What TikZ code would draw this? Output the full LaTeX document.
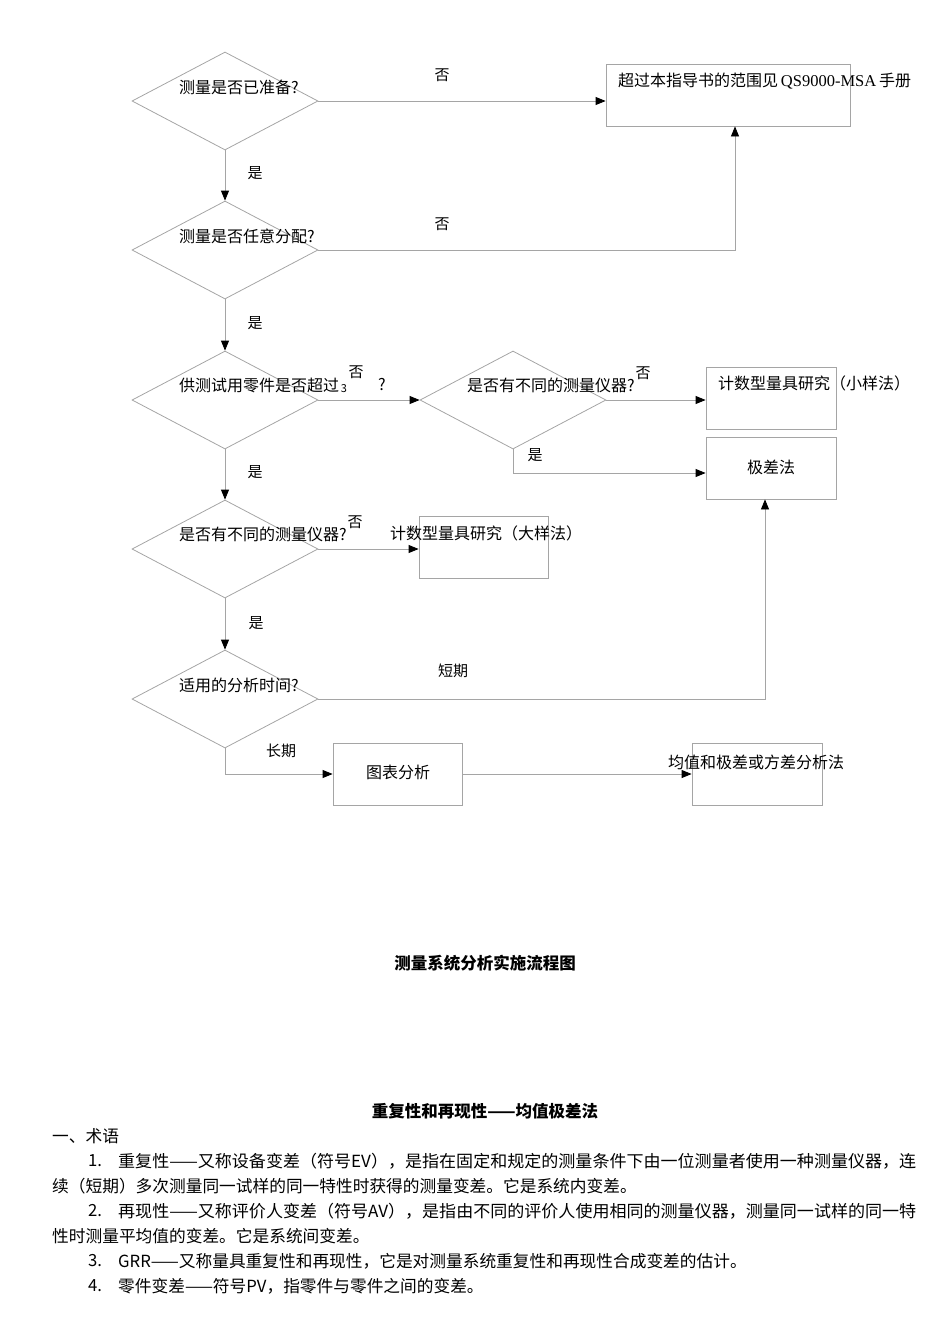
\documentclass[tikz,border=0pt]{standalone}
\usepackage{fontspec}
\usepackage{graphicx}
\setmainfont{Noto Sans CJK SC}
\newfontfamily\tnr{Liberation Serif}
\usetikzlibrary{shapes.geometric,arrows.meta}
\definecolor{lg}{RGB}{165,165,165}
\begin{document}
\begin{tikzpicture}[x=1pt,y=-1pt,
  dia/.style={draw=lg, diamond, minimum width=186pt, minimum height=98pt, inner sep=0pt, line width=0.8pt},
  box/.style={draw=lg, rectangle, inner sep=0pt, line width=0.8pt, minimum height=62pt},
  conn/.style={draw=lg, line width=0.8pt},
  arr/.style={conn, -{Triangle[length=10pt,width=8pt,color=black]}},
  t/.style={inner sep=0pt, font=\fontsize{16}{18}\selectfont},
  lab/.style={inner sep=0pt, font=\fontsize{15}{18}\selectfont},
  body/.style={inner sep=0pt, anchor=west, font=\fontsize{16.7}{20}\selectfont},
  head/.style={inner sep=0pt, font=\fontsize{16.5}{20}\selectfont\bfseries}]
\useasboundingbox (0,0) rectangle (950,1344);

% diamonds
\node[dia] (d1) at (225,101) {};
\node[dia] (d2) at (225,250) {};
\node[dia] (d3) at (225,400) {};
\node[dia] (d4) at (513,400) {};
\node[dia] (d5) at (225,549) {};
\node[dia] (d6) at (225,699) {};

% boxes
\node[box, minimum width=244pt] (b1) at (728,95) {};
\node[box, minimum width=130pt] (s1) at (771,398) {};
\node[box, minimum width=130pt] (r) at (771,468) {};
\node[box, minimum width=129pt] (L) at (483.5,547) {};
\node[box, minimum width=129pt] (c) at (397.5,774) {};
\node[box, minimum width=130pt] (m) at (757,774) {};

% texts
\node[t, anchor=west] (t1) at (179,87) {测量是否已准备?};
\node[t, anchor=west] (t2) at (179,236) {测量是否任意分配?};
\node[t, anchor=west] (t3) at (179,385) {供测试用零件是否超过};
\node[inner sep=0pt, font=\fontsize{11}{12}\selectfont] (t3a) at (344,389) {3};
\node[t] (t3b) at (382,385) {?};
\node[t, anchor=west] (t4) at (467,385) {是否有不同的测量仪器?};
\node[t, anchor=west] (t5) at (179,534) {是否有不同的测量仪器?};
\node[t, anchor=west] (t6) at (179,685) {适用的分析时间?};
\node[t, anchor=west] (tb1) at (618,81) {超过本指导书的范围见{\tnr\fontsize{16.5}{18}\selectfont\,QS9000-MSA\,}手册};
\node[t, anchor=west] (ts1) at (718,383) {计数型量具研究（小样法）};
\node[t] (tr) at (771,467) {极差法};
\node[t, anchor=west] (tL) at (390,533) {计数型量具研究（大样法）};
\node[t] (tc) at (398,772) {图表分析};
\node[t, anchor=west] (tm) at (668,762) {均值和极差或方差分析法};

% connectors
\draw[arr] (d1.east) -- (d1.east -| b1.west);
\draw[arr] (d1.south) -- (d2.north);
\draw[arr] (d2.east) -| ([xshift=7pt]b1.south);
\draw[arr] (d2.south) -- (d3.north);
\draw[arr] (d3.east) -- (d4.west);
\draw[arr] (d4.east) -- (d4.east -| s1.west);
\draw[arr] (d4.south) |- ([yshift=-5pt]r.west);
\draw[arr] (d3.south) -- (d5.north);
\draw[arr] (d5.east) -- (d5.east -| L.west);
\draw[arr] (d5.south) -- (d6.north);
\draw[arr] (d6.east) -| ([xshift=-6pt]r.south);
\draw[arr] (d6.south) |- (c.west);
\draw[arr] (c.east) -- (m.west);

% connector labels
\node[lab] (l1) at (442,75) {否};
\node[lab] (l2) at (442,224) {否};
\node[lab] (l3) at (255,173) {是};
\node[lab] (l4) at (255,323) {是};
\node[lab] (l5) at (356,372) {否};
\node[lab] (l6) at (643,373) {否};
\node[lab] (l7) at (535,455) {是};
\node[lab] (l8) at (255,472) {是};
\node[lab] (l9) at (355,522) {否};
\node[lab] (l10) at (256,623) {是};
\node[lab] (l11) at (453,671) {短期};
\node[lab] (l12) at (281,751) {长期};

% titles
\node[head] (title) at (485,963) {测量系统分析实施流程图};
\node[head] (head2) at (485,1111) {重复性和再现性——均值极差法};

% body
\node[body] (p0) at (52,1136) {一、术语};
\node[body] (p1n) at (88,1161) {1.};
\node[body] (p1) at (118,1161) {\resizebox{798pt}{\height}{重复性——又称设备变差（符号EV），是指在固定和规定的测量条件下由一位测量者使用一种测量仪器，连}};
\node[body] (p2) at (52,1186) {续（短期）多次测量同一试样的同一特性时获得的测量变差。它是系统内变差。};
\node[body] (p3n) at (88,1211) {2.};
\node[body] (p3) at (118,1211) {\resizebox{798pt}{\height}{再现性——又称评价人变差（符号AV），是指由不同的评价人使用相同的测量仪器，测量同一试样的同一特}};
\node[body] (p4) at (52,1236) {性时测量平均值的变差。它是系统间变差。};
\node[body] (p5n) at (88,1261) {3.};
\node[body] (p5) at (118,1261) {GRR——又称量具重复性和再现性，它是对测量系统重复性和再现性合成变差的估计。};
\node[body] (p6n) at (88,1286) {4.};
\node[body] (p6) at (118,1286) {零件变差——符号PV，指零件与零件之间的变差。};
\end{tikzpicture}
\end{document}
